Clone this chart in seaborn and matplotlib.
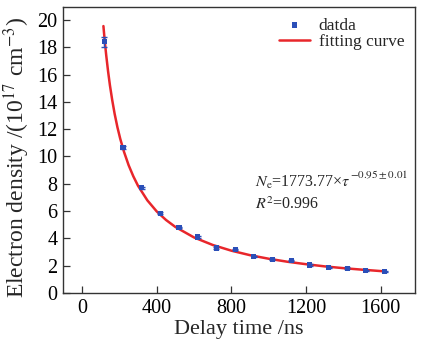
import numpy as np
import matplotlib
matplotlib.use("Agg")
import matplotlib.pyplot as plt
import seaborn as sns

delay = [120, 220, 320, 420, 520, 620, 720, 820, 920, 1020, 1120, 1220, 1320, 1420, 1520, 1620]
dens = [18.4, 10.65, 7.7, 5.85, 4.8, 4.1, 3.3, 3.2, 2.68, 2.45, 2.38, 2.05, 1.85, 1.82, 1.67, 1.57]
dens_err = [0.35, 0.12, 0.1, 0.08, 0.07, 0.06, 0.06, 0.06, 0.05, 0.05, 0.05, 0.05, 0.05, 0.05, 0.05, 0.05]

# fitting curve
fit_t = [115, 122, 130, 140, 150, 162, 175, 190, 205, 225, 250, 275, 300, 350, 400, 450,
         500, 600, 700, 800, 900, 1000, 1100, 1200, 1300, 1400, 1500, 1625]
fit_n = [19.55, 18.47, 17.41, 16.23, 15.2, 14.14, 13.13, 12.14, 11.3, 10.35, 9.36, 8.55,
         7.86, 6.79, 5.98, 5.35, 4.84, 4.07, 3.52, 3.1, 2.77, 2.51, 2.29, 2.11, 1.95,
         1.82, 1.71, 1.58]

sns.set_style("ticks")
plt.rcParams['font.family'] = ['Liberation Serif', 'DejaVu Serif']
plt.rcParams['mathtext.fontset'] = 'stix'

fig = plt.figure(figsize=(4.22, 3.48), dpi=100)
ax = fig.add_axes([0.149, 0.158, 0.834, 0.822])

sns.lineplot(x=fit_t, y=fit_n, ax=ax, color='#e8262b', lw=1.8, label='fitting curve', zorder=2)
ax.errorbar(delay, dens, yerr=dens_err, fmt='none', ecolor='#2b4fb8', elinewidth=1.0,
            capsize=2.5, capthick=1.0, zorder=3)
sns.scatterplot(x=delay, y=dens, ax=ax, marker='s', s=14, color='#2b4fb8',
                edgecolor='none', label='datda', zorder=4)

ax.set_xlim(-102, 1782)
ax.set_ylim(0, 20.95)
ax.set_xticks([0, 400, 800, 1200, 1600])
ax.set_yticks(range(0, 21, 2))
ax.tick_params(axis='both', direction='in', labelsize=14.5, length=5, width=0.9,
               colors='#333333', labelcolor='black', pad=4)
for s in ax.spines.values():
    s.set_visible(True)
    s.set_color('#333333')
    s.set_linewidth(1.0)

ax.set_xlabel('Delay time /ns', fontsize=16, labelpad=2)
ax.set_ylabel(r'Electron density /(10$^{17}$ cm$^{-3}$)', fontsize=17)
ax.yaxis.set_label_coords(-0.088, 0.475)

h, l = ax.get_legend_handles_labels()
order = [l.index('datda'), l.index('fitting curve')]
ax.legend([h[i] for i in order], [l[i] for i in order], loc='upper right', frameon=False,
          fontsize=12.5, handlelength=1.8, borderaxespad=0.2, labelspacing=0.0,
          handletextpad=0.5, bbox_to_anchor=(1.0, 1.0))

t1 = ax.text(0.545, 0.37, r'$N_{\rm e}$=1773.77×$\tau$', transform=ax.transAxes,
             fontsize=11.5)
ax.annotate(r'$-0.95\pm0.01$', xy=(1.0, 0.62), xycoords=t1, fontsize=8, va='bottom')
ax.text(0.545, 0.295, r'$R^2$=0.996', transform=ax.transAxes, fontsize=11.5)

fig.savefig('out.png', dpi=100)
